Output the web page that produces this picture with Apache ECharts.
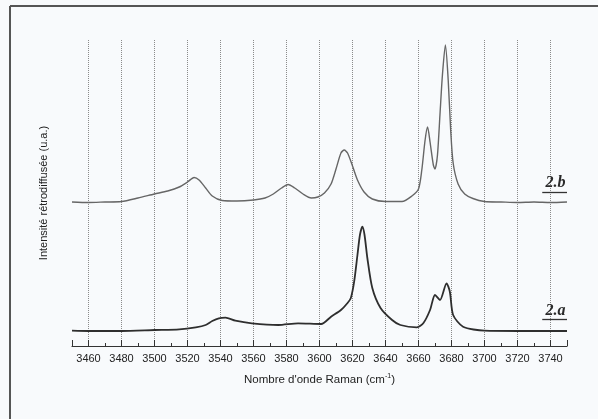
<!DOCTYPE html>
<html>
<head>
<meta charset="utf-8">
<script src="https://cdn.jsdelivr.net/npm/echarts@6/dist/echarts.min.js"></script>
<style>
html,body{margin:0;padding:0;background:#f8fafc;}
#chart{width:598px;height:419px;}
</style>
</head>
<body>
<div id="chart"></div>
<script>
// Raman shift (cm-1) for spectrum 2.b (upper)
const shiftB = [3450,3460,3470,3480,3490,3500,3508,3515,3520,3524,3527,3531,3535,3541,3550,3560,3567,3572,3577,3581,3585,3590,3595,3599,3603,3607,3610,3613,3615,3617,3620,3623,3627,3632,3640,3650,3656,3660,3662,3664,3665.5,3667,3669,3670,3671.5,3673,3674.5,3676.3,3678,3679.5,3681,3684,3688,3693,3700,3710,3720,3730,3740,3750];
const intensityB = [144,143.5,144,144.5,148,152,155,159,164,168.5,166,158,150,145.5,145,146,148,152,158,161.5,158,152,148,149,153,162,177,193,196,193,180,166,154,147,144.5,144.5,150,157,176,206,219,204,181,177,191,231,271,301,266,216,183,162,152,147.5,144.5,144,143.5,144,143.5,144];

// Raman shift (cm-1) for spectrum 2.a (lower)
const shiftA = [3450,3460,3480,3500,3515,3525,3531,3535,3539,3543,3549,3559,3575,3587,3601,3607,3613,3617,3619,3621,3623,3624.5,3626,3627.3,3629,3632,3637,3644,3649,3659,3663,3667,3670,3673,3677,3679,3681,3687,3700,3720,3750];
const intensityA = [15.3,15,15,16,16.7,18.7,21,25,27.7,28.3,25.3,22.7,21,22.7,22,29.3,36,43,48,64.3,91,111,119.3,111,88,58,38,26,21,18.7,23,36,51,46,62.7,54.3,31,19.3,15.3,15,15];

// Curve labels
const labelTexts = ['2.b', '2.a'];
const labelX = [3743, 3743];
const labelY = [163, 35];
const underlineY = [154, 26.5];
const underlineX = [3735, 3750];

const xTitle = "Nombre d'onde Raman (cm{sup|-1})";
const yTitle = 'Intensité rétrodiffusée (u.a.)';

function pairs(xs, ys){ return xs.map((x,i)=>[x, ys[i]]); }

function curveLabel(i){
  return {
    markPoint: {
      symbol: 'circle', symbolSize: 0, silent: true,
      data: [{coord: [labelX[i], labelY[i]]}],
      label: {show: true, position: 'inside', formatter: labelTexts[i],
        fontFamily: 'Liberation Serif', fontStyle: 'italic', fontWeight: 'bold',
        fontSize: 16, color: '#2a2a2a'}
    },
    markLine: {
      symbol: ['none','none'], silent: true, animation: false,
      label: {show: false},
      lineStyle: {type: 'solid', color: '#333', width: 1.3},
      data: [[{coord: [underlineX[0], underlineY[i]]}, {coord: [underlineX[1], underlineY[i]]}]]
    }
  };
}

const chart = echarts.init(document.getElementById('chart'), null, {renderer: 'canvas'});
const font = 'Liberation Sans';
chart.setOption({
  animation: false,
  backgroundColor: '#f8fafc',
  grid: {left: 72, right: 31, top: 40, bottom: 73},
  graphic: [
    {type: 'line', shape: {x1: 10, y1: 6, x2: 598, y2: 6}, style: {stroke: '#555', lineWidth: 2}},
    {type: 'line', shape: {x1: 10, y1: 6, x2: 10, y2: 419}, style: {stroke: '#555', lineWidth: 2}}
  ],
  xAxis: [
    {
      type: 'value', min: 3450, max: 3750, interval: 10,
      axisLine: {show: true, lineStyle: {color: '#333', width: 1.2}},
      axisTick: {show: true, inside: true, length: 3, lineStyle: {color: '#333'}},
      axisLabel: {margin: 7, fontFamily: font, fontSize: 11, color: '#222',
        formatter: v => (v % 20 === 0 ? String(v) : '')},
      splitLine: {show: false},
      name: xTitle, nameLocation: 'middle', nameGap: 27,
      nameTextStyle: {fontFamily: font, fontSize: 11.5, color: '#222',
        rich: {sup: {fontFamily: font, fontSize: 7, color: '#222', verticalAlign: 'top', padding: [0,0,7,0]}}}
    },
    {
      type: 'value', min: 3450, max: 3750, splitNumber: 15, position: 'bottom',
      axisLine: {show: false},
      axisTick: {show: true, inside: true, length: 6, lineStyle: {color: '#333'}},
      axisLabel: {show: false},
      splitLine: {show: true, showMinLine: false, showMaxLine: false,
        lineStyle: {type: 'dotted', color: '#8a8a8a', width: 1}}
    }
  ],
  yAxis: {
    type: 'value', min: 0, max: 306,
    axisLine: {show: false}, axisTick: {show: false}, axisLabel: {show: false}, splitLine: {show: false},
    name: yTitle, nameLocation: 'middle', nameGap: 23, nameRotate: 90,
    nameTextStyle: {fontFamily: font, fontSize: 11, color: '#222'}
  },
  series: [
    Object.assign({
      type: 'line', name: '2.b', data: pairs(shiftB, intensityB),
      showSymbol: false, smooth: 0.25,
      lineStyle: {color: '#666', width: 1.4}
    }, curveLabel(0)),
    Object.assign({
      type: 'line', name: '2.a', data: pairs(shiftA, intensityA),
      showSymbol: false, smooth: 0.25,
      lineStyle: {color: '#2e2e2e', width: 1.8}
    }, curveLabel(1))
  ]
});
</script>
</body>
</html>
